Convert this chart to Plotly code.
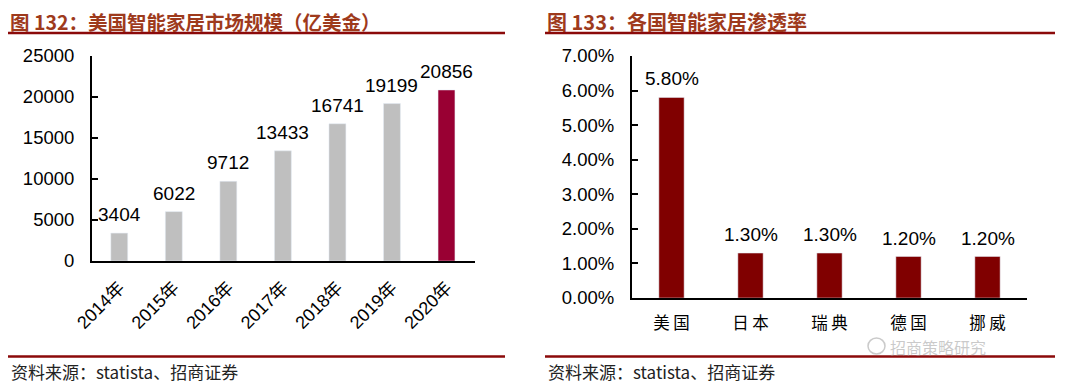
import plotly.graph_objects as go

# Left chart data
years = ["2014年", "2015年", "2016年", "2017年", "2018年", "2019年", "2020年"]
market_size = [3404, 6022, 9712, 13433, 16741, 19199, 20856]
left_ticks = [0, 5000, 10000, 15000, 20000, 25000]

# Right chart data
countries = ["美 国", "日 本", "瑞 典", "德 国", "挪 威"]
penetration = [0.058, 0.013, 0.013, 0.012, 0.012]
right_ticks = [0, 0.01, 0.02, 0.03, 0.04, 0.05, 0.06, 0.07]

title_left = "图 132：美国智能家居市场规模（亿美金）"
title_right = "图 133：各国智能家居渗透率"
source_text = "资料来源：statista、招商证券"

# The page body has an 8px margin, so the figure is sized to fit the window
OFF = 8
W, H = 1080 - OFF, 383 - OFF
TITLE_COLOR = "#9e3a1c"
LINE_COLOR = "#8b0a0a"
FONT = "Liberation Sans, Arial, Noto Sans CJK SC, sans-serif"
CJK = "Noto Sans CJK SC, sans-serif"

def px(x):
    return (x - OFF) / W

def py(y):
    return 1 - (y - OFF) / H

fig = go.Figure()

left_colors = ["#bfbfbf"] * (len(years) - 1) + ["#990033"]
fig.add_trace(go.Bar(
    x=years, y=market_size, marker_color=left_colors, width=0.31,
    xaxis="x", yaxis="y", showlegend=False,
))

fig.add_trace(go.Bar(
    x=countries, y=penetration, marker_color="#800000", width=0.32,
    xaxis="x2", yaxis="y2", showlegend=False,
))

# Value labels anchored at data coordinates
label_font = dict(size=19, color="#000000", family=FONT)
for xv, yv in zip(years, market_size):
    fig.add_annotation(x=xv, y=yv, xref="x", yref="y", text=str(yv),
                       showarrow=False, yanchor="bottom", yshift=6, font=label_font)
for xv, yv in zip(countries, penetration):
    fig.add_annotation(x=xv, y=yv, xref="x2", yref="y2", text=f"{yv*100:.2f}%",
                       showarrow=False, yanchor="bottom", yshift=6, font=label_font)

axis_common = dict(showgrid=False, zeroline=False, showline=True, automargin=False,
                   linecolor="#000000", linewidth=2)

tick_font = dict(size=18.5, color="#000000", family=FONT)

fig.update_layout(
    width=W, height=H, margin=dict(l=0, r=0, t=0, b=0, autoexpand=False),
    paper_bgcolor="white", plot_bgcolor="white", bargap=0.5,
    xaxis=dict(domain=[px(92), px(475)], anchor="y", ticks="", tickangle=-45,
               tickfont=dict(size=18, color="#000000", family=FONT),
               ticklabelstandoff=7, **axis_common),
    yaxis=dict(domain=[py(261), py(56)], anchor="x", range=[0, 25000],
               tickvals=left_ticks, ticktext=[str(v) for v in left_ticks],
               ticks="inside", ticklen=6, tickwidth=2, tickcolor="#000000",
               tickfont=tick_font, ticklabelstandoff=12, **axis_common),
    xaxis2=dict(domain=[px(632), px(1027)], anchor="y2", ticks="",
                tickfont=dict(size=16.5, color="#000000", family=CJK),
                ticklabelstandoff=9, **axis_common),
    yaxis2=dict(domain=[py(298), py(56)], anchor="x2", range=[0, 0.07],
                tickvals=right_ticks, ticktext=[f"{v*100:.2f}%" for v in right_ticks],
                ticks="inside", ticklen=6, tickwidth=2, tickcolor="#000000",
                tickfont=tick_font, ticklabelstandoff=12, **axis_common),
)

# Titles, rules, sources
for x0, x1, title, tsize in [(8, 505, title_left, 19.5), (545, 1055, title_right, 20)]:
    fig.add_annotation(x=px(x0 + 1), y=py(22), xref="paper", yref="paper",
                       text=f"<b>{title}</b>", showarrow=False, xanchor="left",
                       yanchor="middle", borderpad=0,
                       font=dict(size=tsize, color=TITLE_COLOR, family=CJK))
    fig.add_shape(type="line", xref="paper", yref="paper", x0=px(x0), x1=px(x1),
                  y0=py(33), y1=py(33), line=dict(color=LINE_COLOR, width=2.5))
    fig.add_shape(type="line", xref="paper", yref="paper", x0=px(x0), x1=px(x1),
                  y0=py(356.5), y1=py(356.5), line=dict(color=LINE_COLOR, width=2.5))
    fig.add_annotation(x=px(x0 + 1), y=py(371), xref="paper", yref="paper",
                       text=source_text, showarrow=False, xanchor="left",
                       yanchor="middle", font=dict(size=17, color="#222222", family=CJK))

# Watermark
fig.add_annotation(x=px(888), y=py(346.5), xref="paper", yref="paper",
                   text="招商策略研究", showarrow=False, xanchor="left", yanchor="middle",
                   font=dict(size=16, color="rgba(150,150,150,0.5)", family=CJK))
fig.add_shape(type="circle", xref="paper", yref="paper",
              x0=px(868), x1=px(885), y0=py(354), y1=py(338),
              line=dict(color="rgba(150,150,150,0.5)", width=1.5))

fig.write_html("out.html")
